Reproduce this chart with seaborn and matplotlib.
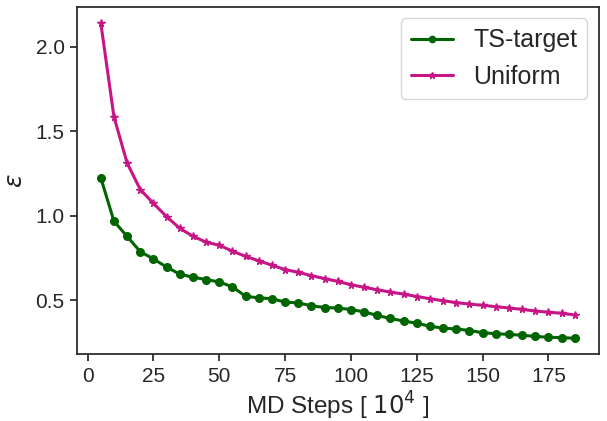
"""Error vs MD steps for TS-target and uniform sampling."""
import matplotlib
matplotlib.use("Agg")
import matplotlib.pyplot as plt
import numpy as np
import pandas as pd
import seaborn as sns

md_steps = np.arange(5, 190, 5)

ts_target = [
    1.225, 0.968, 0.878, 0.788, 0.745, 0.697, 0.655, 0.637, 0.623, 0.609,
    0.580, 0.524, 0.515, 0.510, 0.490, 0.485, 0.468, 0.458, 0.455, 0.446,
    0.432, 0.411, 0.393, 0.378, 0.365, 0.347, 0.336, 0.331, 0.322, 0.309,
    0.303, 0.299, 0.294, 0.287, 0.282, 0.280, 0.276,
]

uniform = [
    2.140, 1.585, 1.312, 1.155, 1.073, 0.995, 0.926, 0.879, 0.844, 0.826,
    0.791, 0.760, 0.734, 0.708, 0.682, 0.666, 0.646, 0.629, 0.612, 0.593,
    0.577, 0.563, 0.549, 0.537, 0.523, 0.510, 0.498, 0.487, 0.478, 0.471,
    0.463, 0.455, 0.447, 0.437, 0.430, 0.424, 0.414,
]

sns.set_theme(style="ticks")
plt.rcParams["font.family"] = ["Liberation Sans", "DejaVu Sans"]

df = pd.DataFrame({"step": md_steps, "TS-target": ts_target, "Uniform": uniform})

fig, ax = plt.subplots(figsize=(6.07, 4.21), dpi=100)
sns.lineplot(data=df, x="step", y="TS-target", color="darkgreen", marker="o",
             markersize=6.5, markeredgewidth=0, linewidth=2.2, label="TS-target", ax=ax)
sns.lineplot(data=df, x="step", y="Uniform", color="mediumvioletred", marker="*",
             markersize=5.5, markeredgewidth=1.0, markeredgecolor="mediumvioletred",
             linewidth=2.2, label="Uniform", ax=ax)

ax.set_xlabel(r"MD Steps [ $10^4$ ]", fontsize=17.5, labelpad=3)
ax.set_ylabel(r"$\varepsilon$", fontsize=18, labelpad=6)
ax.tick_params(labelsize=15, length=5, pad=4)
ax.set_xticks([0, 25, 50, 75, 100, 125, 150, 175])
ax.set_yticks([0.5, 1.0, 1.5, 2.0])
ax.legend(loc="upper right", fontsize=18, markerscale=0.85, handlelength=1.7,
          borderaxespad=0.45)

fig.subplots_adjust(left=0.127, right=0.986, top=0.983, bottom=0.159)
fig.savefig("out.png", dpi=100)
